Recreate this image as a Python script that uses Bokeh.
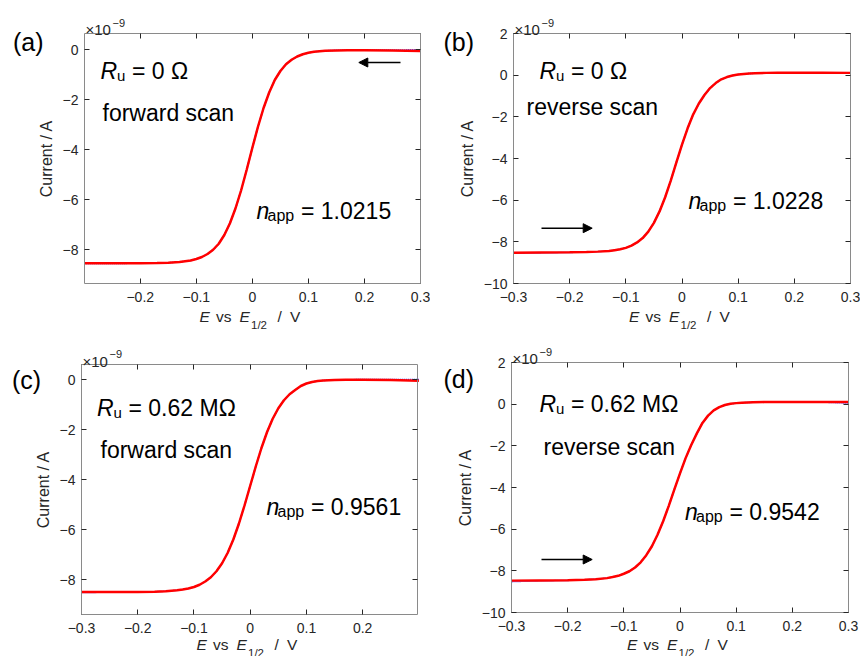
from bokeh.plotting import figure
from bokeh.models import (Range1d, LinearAxis, FixedTicker, Label, Arrow,
                          NormalHead, CustomJSTickFormatter)
from bokeh.layouts import column, row
from bokeh.embed import file_html
from bokeh.resources import INLINE

# ---------------- data (current in units of 1e-9 A) ----------------
E_V = [-0.30, -0.25, -0.20, -0.17, -0.15, -0.13,
       -0.12, -0.11, -0.10, -0.09, -0.08, -0.07, -0.06, -0.05, -0.04, -0.03,
       -0.02, -0.01, 0.00, 0.01, 0.02, 0.03, 0.04, 0.05, 0.06, 0.07, 0.08,
       0.09, 0.10, 0.11, 0.12,
       0.13, 0.15, 0.17, 0.20, 0.25, 0.30]

fit_a = [-8.54, -8.54, -8.54, -8.53, -8.52, -8.49,
         -8.46, -8.43, -8.37, -8.29, -8.17, -8.00, -7.76, -7.41, -6.94, -6.34,
         -5.62, -4.79, -3.92, -3.08, -2.33, -1.71, -1.21, -0.85, -0.58, -0.40,
         -0.27, -0.18, -0.12, -0.08, -0.06,
         -0.04, -0.03, -0.02, -0.02, -0.03, -0.05]
sim_a = [-8.55, -8.55, -8.54, -8.53, -8.52, -8.49,
         -8.46, -8.43, -8.37, -8.29, -8.17, -8.00, -7.76, -7.41, -6.94, -6.34,
         -5.62, -4.79, -3.92, -3.08, -2.33, -1.71, -1.21, -0.85, -0.58, -0.40,
         -0.27, -0.18, -0.12, -0.08, -0.06,
         -0.04, -0.02, -0.01, -0.01, -0.01, 0.00]

fit_b = [-8.52, -8.51, -8.50, -8.49, -8.47, -8.44,
         -8.40, -8.36, -8.29, -8.18, -8.03, -7.82, -7.51, -7.09, -6.54, -5.86,
         -5.06, -4.19, -3.33, -2.55, -1.88, -1.36, -0.95, -0.62, -0.38, -0.20,
         -0.09, -0.02, 0.03, 0.06, 0.08,
         0.09, 0.11, 0.12, 0.12, 0.12, 0.11]
sim_b = [-8.55, -8.53, -8.51, -8.49, -8.47, -8.44,
         -8.40, -8.36, -8.29, -8.18, -8.03, -7.82, -7.51, -7.09, -6.54, -5.86,
         -5.06, -4.19, -3.33, -2.55, -1.88, -1.36, -0.95, -0.62, -0.38, -0.20,
         -0.09, -0.02, 0.03, 0.06, 0.08,
         0.09, 0.11, 0.12, 0.12, 0.12, 0.10]

fit_c = [-8.50, -8.50, -8.50, -8.49, -8.47, -8.43,
         -8.40, -8.36, -8.30, -8.21, -8.08, -7.91, -7.67, -7.35, -6.93, -6.40,
         -5.76, -5.03, -4.25, -3.47, -2.74, -2.10, -1.57, -1.15, -0.83, -0.59,
         -0.42, -0.26, -0.16, -0.10, -0.06,
         -0.04, -0.02, -0.01, -0.01, -0.02, -0.05]
sim_c = [-8.52, -8.51, -8.50, -8.49, -8.47, -8.43,
         -8.40, -8.36, -8.30, -8.21, -8.08, -7.91, -7.67, -7.35, -6.93, -6.40,
         -5.76, -5.03, -4.25, -3.47, -2.74, -2.10, -1.57, -1.15, -0.83, -0.59,
         -0.42, -0.26, -0.16, -0.10, -0.06,
         -0.04, -0.02, -0.01, 0.00, 0.00, 0.00]

fit_d = [-8.47, -8.46, -8.45, -8.43, -8.40, -8.35,
         -8.30, -8.24, -8.14, -8.02, -7.84, -7.59, -7.25, -6.82, -6.27, -5.62,
         -4.88, -4.09, -3.32, -2.59, -1.96, -1.40, -0.90, -0.55, -0.30, -0.14,
         -0.04, 0.02, 0.05, 0.07, 0.08,
         0.09, 0.10, 0.10, 0.11, 0.11, 0.10]
sim_d = [-8.52, -8.48, -8.46, -8.43, -8.40, -8.35,
         -8.30, -8.24, -8.14, -8.02, -7.84, -7.59, -7.25, -6.82, -6.27, -5.62,
         -4.88, -4.09, -3.32, -2.59, -1.96, -1.40, -0.90, -0.55, -0.30, -0.14,
         -0.04, 0.02, 0.05, 0.07, 0.08,
         0.09, 0.10, 0.10, 0.11, 0.10, 0.05]

x_ticks_all = [-0.3, -0.2, -0.1, 0.0, 0.1, 0.2, 0.3]
x_ticks_a = [-0.2, -0.1, 0.0, 0.1, 0.2, 0.3]
x_ticks_c = [-0.3, -0.2, -0.1, 0.0, 0.1, 0.2]
y_ticks_ac = [-8, -6, -4, -2, 0]
y_ticks_bd = [-10, -8, -6, -4, -2, 0, 2]

panel_tags = ["(a)", "(b)", "(c)", "(d)"]
ru_texts = ["= 0 \u03a9", "= 0 \u03a9", "= 0.62 M\u03a9", "= 0.62 M\u03a9"]
scan_texts = ["forward scan", "reverse scan", "forward scan", "reverse scan"]
napp_texts = ["= 1.0215", "= 1.0228", "= 0.9561", "= 0.9542"]

FONT = "Liberation Sans"
AX_LINE = "#8a8a8a"
TXT = "#262626"

XFMT = CustomJSTickFormatter(code="""
if (Math.abs(tick) < 1e-9) return "0";
const s = Math.abs(tick).toFixed(1);
return (tick < 0 ? "\u2212" : "") + s;
""")
YFMT = CustomJSTickFormatter(code="""
const v = Math.round(tick);
if (v == 0) return "0";
return (v < 0 ? "\u2212" + (-v) : "" + v);
""")
BLANK = CustomJSTickFormatter(code="return '';")


def make_panel(i, ox, oy, w, h, fl, ft, fw, fh, xr, yr, xticks, yticks, E, sim, fit,
               tag_pos, sup_pos, ru_pos, scan_pos, napp_pos, arrow, xlab_dy):
    kx = (xr[1] - xr[0]) / fw
    ky = (yr[1] - yr[0]) / fh
    X0 = xr[0] - (fl - ox) * kx
    X1 = xr[1] + (ox + w - fl - fw) * kx
    Y1 = yr[1] + (ft - oy) * ky
    Y0 = yr[0] - (oy + h - ft - fh) * ky

    p = figure(width=w, height=h, output_backend="svg", toolbar_location=None,
               tools="", x_range=Range1d(X0, X1), y_range=Range1d(Y0, Y1),
               x_axis_type=None, y_axis_type=None, min_border=0)
    p.background_fill_color = "white"
    p.border_fill_color = "white"
    p.outline_line_color = None
    p.xgrid.visible = False
    p.ygrid.visible = False

    def conv(px, py):
        return (xr[0] + (px - fl) * kx, yr[1] - (py - ft) * ky)

    def axis(loc, ticks, fmt, fixed, bounds):
        ax = LinearAxis(ticker=FixedTicker(ticks=ticks), formatter=fmt,
                        fixed_location=fixed, bounds=bounds,
                        major_tick_in=5, major_tick_out=0,
                        minor_tick_in=0, minor_tick_out=0,
                        axis_line_color=AX_LINE, axis_line_width=1,
                        major_tick_line_color=TXT,
                        major_label_text_font=FONT,
                        major_label_text_font_size="14px",
                        major_label_text_color=TXT)
        p.add_layout(ax, loc)
        return ax

    xb = axis("below", xticks, XFMT, yr[0], xr)
    xb.major_label_standoff = 8
    yl = axis("left", yticks, YFMT, xr[0], yr)
    yl.major_label_standoff = 6
    yl.axis_label = "Current / A"
    yl.axis_label_text_font = FONT
    yl.axis_label_text_font_size = "16px"
    yl.axis_label_text_font_style = "normal"
    yl.axis_label_text_color = TXT
    yl.axis_label_standoff = 5
    axis("above", xticks, BLANK, yr[1], xr).major_label_standoff = 0
    axis("right", yticks, BLANK, xr[1], yr).major_label_standoff = 0

    p.line(E, sim, line_color="blue", line_width=1.5, line_dash="1 1")
    p.line(E, fit, line_color="red", line_width=2.5)

    def lab(text, px, py, size, style="normal", color="black"):
        x, y = conv(px, py)
        p.add_layout(Label(x=x, y=y, text=text, text_font=FONT,
                           text_font_size=f"{size}px", text_font_style=style,
                           text_color=color, text_align="left",
                           text_baseline="alphabetic"))

    lab(panel_tags[i], tag_pos[0], tag_pos[1], 25)
    lab("\u00d710", sup_pos[0], sup_pos[1], 15, color=TXT)
    lab("\u22129", sup_pos[0] + 27, sup_pos[1] - 7, 11, color=TXT)

    rx, ry = ru_pos
    lab("R", rx, ry, 23, "italic")
    lab("u", rx + 16.5, ry + 4.6, 15)
    lab(ru_texts[i], rx + 31.5, ry, 23)

    lab(scan_texts[i], scan_pos[0], scan_pos[1], 23)

    nx, ny = napp_pos
    lab("n", nx, ny, 23, "italic")
    lab("app", nx + 11, ny + 4.5, 16)
    lab(napp_texts[i], nx + 44.5, ny, 23)

    # x-axis label pieces
    cx = fl + fw / 2.0
    fb = ft + fh + xlab_dy
    lab("E", cx - 53, fb + 33, 15.5, "italic", TXT)
    lab("vs", cx - 36.5, fb + 33, 15.5, "normal", TXT)
    lab("E", cx - 13, fb + 33, 15.5, "italic", TXT)
    lab("1/2", cx - 1.5, fb + 41.8, 11.5, "normal", TXT)
    lab("/", cx + 25, fb + 33, 15.5, "normal", TXT)
    lab("V", cx + 37.5, fb + 33, 15.5, "normal", TXT)

    if arrow is not None:
        (ax0, ay0), (ax1, ay1) = arrow
        xs, ys = conv(ax0, ay0)
        xe, ye = conv(ax1, ay1)
        p.add_layout(Arrow(x_start=xs, y_start=ys, x_end=xe, y_end=ye,
                           line_color="black", line_width=1.5,
                           end=NormalHead(size=9, fill_color="black",
                                          line_color="black", line_width=1)))
    return p


pa = make_panel(0, 0, 0, 430, 330, 84, 33, 336, 250, (-0.2995, 0.3), (-9.35, 0.65),
                x_ticks_a, y_ticks_ac, E_V, sim_a, fit_a,
                (12.5, 41), (85, 29), (100, 70.7), (102, 112.7), (256, 210.5),
                ((400, 62), (358.3, 62)), 0)
pb = make_panel(1, 430, 0, 430, 330, 513, 33, 337, 250, (-0.3, 0.3), (-10, 2),
                x_ticks_all, y_ticks_bd, E_V, sim_b, fit_b,
                (443, 41.6), (514, 29), (539, 70.7), (526, 106.7), (688, 200),
                ((541, 227.7), (591.7, 227.7)), 0)
pc = make_panel(2, 0, 330, 430, 326, 81, 364, 336, 250, (-0.3, 0.2975), (-9.4, 0.6),
                x_ticks_c, y_ticks_ac, E_V, sim_c, fit_c,
                (11.5, 379), (82, 360.5), (96.5, 407.3), (100, 449.3), (266, 506),
                None, -3)
pd = make_panel(3, 430, 330, 430, 326, 511, 362, 337, 250, (-0.3, 0.3), (-10, 2),
                x_ticks_all, y_ticks_bd, E_V, sim_d, fit_d,
                (443, 378), (512, 358.3), (539, 403.3), (543, 446), (684.5, 511.7),
                ((541, 559), (591.7, 559)), -1.5)

layout = column(row(pa, pb), row(pc, pd))
open("out.html", "w").write(file_html(layout, INLINE))
